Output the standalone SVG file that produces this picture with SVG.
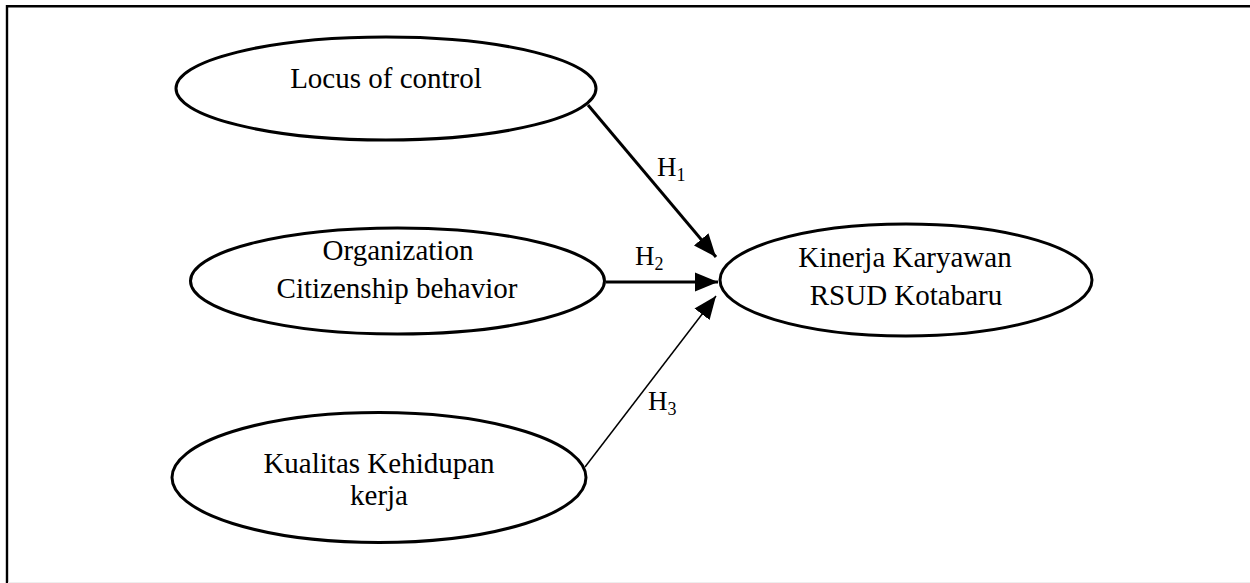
<svg xmlns="http://www.w3.org/2000/svg" width="1250" height="583" viewBox="0 0 1250 583">
<style>
.node ellipse{fill:#fff;stroke:#000;stroke-width:3}
.lbl{font-family:"Liberation Serif","Times New Roman",serif;font-size:29px;fill:#000;text-anchor:middle}
.h{font-family:"Liberation Serif","Times New Roman",serif;font-size:27px;fill:#000}
.sub{font-size:18px}
.conn line{stroke:#000}
</style>
<defs>
<marker id="arr" markerUnits="userSpaceOnUse" markerWidth="26" markerHeight="20" refX="23" refY="10" orient="auto">
<path d="M0,0.5 L23,10 L0,19.5 Z" fill="#000"/>
</marker>
</defs>
<rect x="0" y="0" width="1250" height="583" fill="#fff"/>
<path d="M7,583 V6.2 H1250" fill="none" stroke="#000" stroke-width="2.4"/>
<line x1="8" y1="582.5" x2="1250" y2="582.5" stroke="#eee" stroke-width="1"/>
<g class="conn">
<line x1="588" y1="105" x2="716" y2="257" stroke-width="3" marker-end="url(#arr)"/>
<line x1="606" y1="282" x2="718" y2="282" stroke-width="3" marker-end="url(#arr)"/>
<line x1="585" y1="467" x2="716" y2="296" stroke-width="1.5" marker-end="url(#arr)"/>
<text class="h" x="657" y="176">H<tspan class="sub" dy="5">1</tspan></text>
<text class="h" x="635" y="265">H<tspan class="sub" dy="5">2</tspan></text>
<text class="h" x="648" y="410">H<tspan class="sub" dy="5">3</tspan></text>
</g>
<g class="node" id="n-locus">
<ellipse cx="386" cy="88.5" rx="210" ry="51.5"/>
<text class="lbl" x="386" y="88">Locus of control</text>
</g>
<g class="node" id="n-ocb">
<ellipse cx="397.5" cy="281" rx="207" ry="53"/>
<text class="lbl" x="398" y="260">Organization</text>
<text class="lbl" x="397" y="298">Citizenship behavior</text>
</g>
<g class="node" id="n-qwl">
<ellipse cx="379" cy="477.5" rx="207" ry="65"/>
<text class="lbl" x="379" y="473">Kualitas Kehidupan</text>
<text class="lbl" x="379" y="505">kerja</text>
</g>
<g class="node" id="n-kinerja">
<ellipse cx="906" cy="280" rx="186" ry="56"/>
<text class="lbl" x="905" y="267">Kinerja Karyawan</text>
<text class="lbl" x="906" y="305">RSUD Kotabaru</text>
</g>
</svg>
